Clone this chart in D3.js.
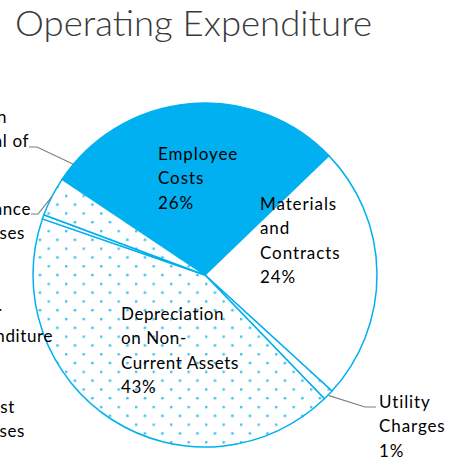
<!DOCTYPE html>
<html>
<head>
<meta charset="utf-8">
<title>Operating Expenditure</title>
<script src="https://d3js.org/d3.v7.min.js"></script>
<style>
    body { margin: 0; background: #fff; }
    text { font-family: Lato, "Open Sans", sans-serif; }
</style>
</head>
<body>
<div id="chart"></div>
<script>
    // Slices, clockwise from the Employee Costs edge
    const categories = ["Employee Costs", "Materials and Contracts", "Utility Charges",
        "Depreciation on Non-Current Assets", "Interest Expenses", "Finance Expenses"];
    const shares = [28.4, 24, 1, 42.5, 0.4, 3.7];
    const fills = ["solid", "white", "dots", "dots", "white", "dots"];

    // label text as shown (inside / right of the pie)
    const labelLines = [
        ["Employee", "Costs", "26%"],
        ["Materials", "and", "Contracts", "24%"],
        ["Utility", "Charges", "1%"],
        ["Depreciation", "on Non-", "Current Assets", "43%"]
    ];
    // cropped labels on the left edge
    const leftLabels = [
        ["Loss on", "Disposal of"],
        ["Finance", "Expenses"],
        ["Other", "Expenditure"],
        ["Interest", "Expenses"]
    ];

    const W = 451, H = 466;
    const cx = 205, cy = 275, r = 172;
    const blue = "#00B0F0";

    const svg = d3.select("#chart").append("svg")
        .attr("width", W).attr("height", H);

    // dot pattern
    const defs = svg.append("defs");
    const pat = defs.append("pattern")
        .attr("id", "dots")
        .attr("patternUnits", "userSpaceOnUse")
        .attr("x", 0).attr("y", 7.7)
        .attr("width", 17.5).attr("height", 17.6);
    pat.append("rect").attr("width", 17.5).attr("height", 17.6).attr("fill", "#fff");
    pat.append("circle").attr("cx", 1.2).attr("cy", 1.2).attr("r", 1.35).attr("fill", "#3fc1f3");
    pat.append("circle").attr("cx", 9.95).attr("cy", 10).attr("r", 1.35).attr("fill", "#3fc1f3");

    // title
    svg.append("text")
        .attr("x", 15).attr("y", 36)
        .attr("font-size", 36)
        .attr("font-weight", 300)
        .attr("fill", "#3a3a3a")
        .attr("textLength", 357)
        .attr("lengthAdjust", "spacingAndGlyphs")
        .text("Operating Expenditure");

    const startDeg = -56.2;
    const pie = d3.pie().sort(null)
        .startAngle(startDeg * Math.PI / 180)
        .endAngle(startDeg * Math.PI / 180 + 2 * Math.PI);
    const arcs = pie(shares);
    const arc = d3.arc().innerRadius(0).outerRadius(r);

    const g = svg.append("g").attr("transform", `translate(${cx},${cy})`);
    g.selectAll("path")
        .data(arcs)
        .join("path")
        .attr("d", arc)
        .attr("fill", (d, i) => fills[i] === "solid" ? blue : fills[i] === "dots" ? "url(#dots)" : "#fff")
        .attr("stroke", blue)
        .attr("stroke-width", 1.5)
        .attr("stroke-linejoin", "round");

    // point on the rim at a given angle (radians)
    const rim = (a, rr) => [cx + rr * Math.sin(a), cy - rr * Math.cos(a)];
    const mid = d => (d.startAngle + d.endAngle) / 2;

    const lineH = 24.3;
    // xs: one x per line (lines of the cropped labels are centred, so their ends differ)
    function drawLines(xs, yTop, lines, anchor, ls) {
        const t = svg.append("text")
            .attr("font-size", 17)
            .attr("fill", "#000")
            .attr("letter-spacing", ls)
            .attr("text-anchor", anchor);
        lines.forEach((s, i) => {
            const x = Array.isArray(xs) ? xs[i] : xs;
            t.append("tspan").attr("x", x).attr("y", yTop + i * lineH).text(s);
        });
    }

    // inside labels
    drawLines(158, 160, labelLines[0], "start", 0.9);
    drawLines(260, 210, labelLines[1], "start", 0.9);
    drawLines(121, 320, labelLines[3], "start", 0.6);
    drawLines(379, 408, labelLines[2], "start", 0.9);

    // left labels (cut off by the frame)
    drawLines([7, 29], 123, leftLabels[0], "end", 0.6);
    drawLines([31, 25], 215, leftLabels[1], "end", 0.6);
    drawLines([2, 53], 318, leftLabels[2], "end", 0.6);
    drawLines([15, 25], 413, leftLabels[3], "end", 0.6);

    // leader lines
    const leader = pts => svg.append("path")
        .attr("d", d3.line()(pts))
        .attr("fill", "none")
        .attr("stroke", "#7f7f7f")
        .attr("stroke-width", 1.2);

    const util = rim(mid(arcs[2]), r + 1);
    leader([util, [365, 407], [376, 407]]);
    const fin = rim(mid(arcs[5]), r);
    leader([[31, 214], [38, 214], fin]);
    const loss = rim(arcs[5].endAngle + 6.3 * Math.PI / 180, r);
    leader([[29, 147], [37, 147], loss]);
</script>
</body>
</html>
